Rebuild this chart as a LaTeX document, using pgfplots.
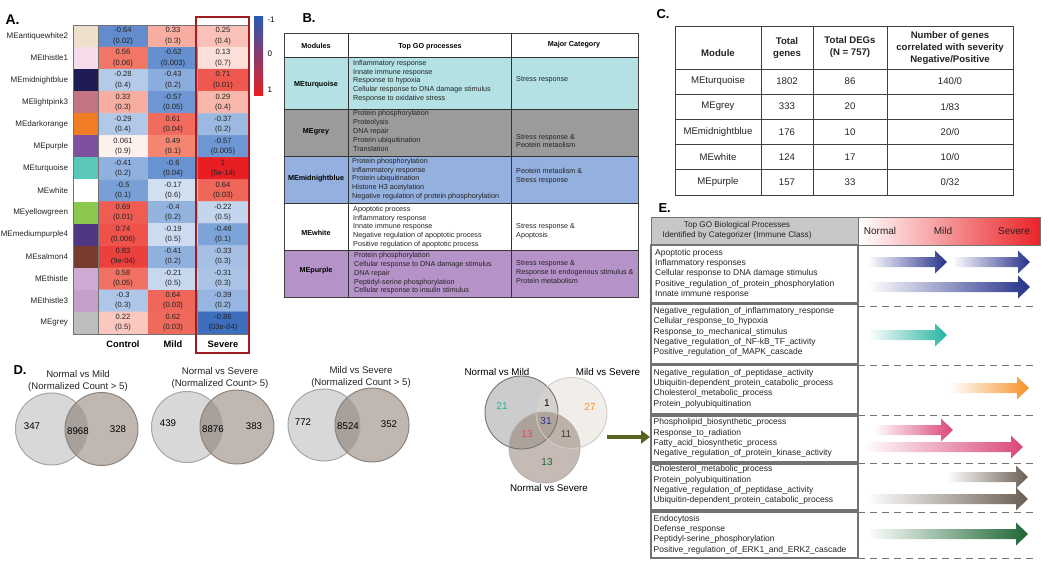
\documentclass[border=0pt]{standalone}
\usepackage{pgfplots}
\pgfplotsset{compat=1.18}
\usepackage{fontspec}
\setmainfont{Liberation Sans}
\usetikzlibrary{arrows.meta}

\definecolor{swA}{RGB}{238,223,204}
\definecolor{swB}{RGB}{248,220,236}
\definecolor{swC}{RGB}{30,27,85}
\definecolor{swD}{RGB}{195,115,130}
\definecolor{swE}{RGB}{240,125,35}
\definecolor{swF}{RGB}{125,80,160}
\definecolor{swG}{RGB}{90,200,185}
\definecolor{swH}{RGB}{255,255,255}
\definecolor{swI}{RGB}{140,200,80}
\definecolor{swJ}{RGB}{80,55,130}
\definecolor{swK}{RGB}{120,60,45}
\definecolor{swL}{RGB}{205,170,210}
\definecolor{swM}{RGB}{195,160,200}
\definecolor{swN}{RGB}{190,190,190}
\definecolor{cbBlue}{RGB}{40,90,180}
\definecolor{cbRed}{RGB}{232,30,35}
\definecolor{sevBox}{RGB}{160,30,35}
\definecolor{bTurq}{RGB}{180,226,228}
\definecolor{bGrey}{RGB}{155,155,155}
\definecolor{bMid}{RGB}{148,176,222}
\definecolor{bPur}{RGB}{181,146,200}
\definecolor{vL}{RGB}{216,216,216}
\definecolor{vLd}{RGB}{165,165,165}
\definecolor{vR}{RGB}{192,184,176}
\definecolor{vRd}{RGB}{140,131,125}
\definecolor{vO}{RGB}{168,160,154}
\definecolor{aNavy}{RGB}{38,49,138}
\definecolor{aTeal}{RGB}{38,179,160}
\definecolor{aOrange}{RGB}{245,146,42}
\definecolor{aPink}{RGB}{217,70,122}
\definecolor{aBrown}{RGB}{107,93,82}
\definecolor{aGreen}{RGB}{29,102,51}
\definecolor{olive}{RGB}{85,100,30}
\definecolor{hdrRed}{RGB}{235,35,40}
\definecolor{txt}{RGB}{35,35,35}

\newcommand{\ft}[2]{\fontsize{#1pt}{#2pt}\selectfont}
\newcommand{\garrow}[4]{%
  \shade[left color=white, right color=#4]
  (#1,{#3-5}) -- ({#2-12},{#3-5}) -- ({#2-12},{#3-11.5}) -- (#2,#3) --
  ({#2-12},{#3+11.5}) -- ({#2-12},{#3+5}) -- (#1,{#3+5}) -- cycle;}
\newcommand{\venn}[5]{%
  \fill[vL] (#1,#3) circle (#4pt);
  \fill[vR] (#2,#3) circle (#5pt);
  \begin{scope}\clip (#1,#3) circle (#4pt); \fill[vO] (#2,#3) circle (#5pt);\end{scope}
  \draw[vLd, line width=1pt] (#1,#3) circle (#4pt);
  \draw[vRd, line width=1pt] (#2,#3) circle (#5pt);}

\begin{document}
\begin{tikzpicture}
\useasboundingbox (0,0) rectangle (1050pt,-565pt);

% ---------- A: heatmap ----------
\begin{axis}[at={(98pt,-25pt)}, anchor=north west, scale only axis,
  width=150pt, height=309pt, xmin=-0.5, xmax=2.5, ymin=-0.5, ymax=13.5,
  y dir=reverse, hide axis, enlargelimits=false,
  colormap={hm}{rgb255=(40,90,180) rgb255=(120,160,215) rgb255=(255,255,255) rgb255=(243,130,110) rgb255=(232,30,35)},
  point meta min=-1, point meta max=1]
\addplot[matrix plot*, mesh/cols=3, point meta=explicit] table[meta=c] {
x y c
0 0 -0.64
1 0 0.33
2 0 0.25
0 1 0.56
1 1 -0.62
2 1 0.13
0 2 -0.28
1 2 -0.43
2 2 0.71
0 3 0.33
1 3 -0.57
2 3 0.29
0 4 -0.29
1 4 0.61
2 4 -0.37
0 5 0.061
1 5 0.49
2 5 -0.57
0 6 -0.41
1 6 -0.6
2 6 1
0 7 -0.5
1 7 -0.17
2 7 0.64
0 8 0.69
1 8 -0.4
2 8 -0.22
0 9 0.74
1 9 -0.19
2 9 -0.48
0 10 0.83
1 10 -0.41
2 10 -0.33
0 11 0.58
1 11 -0.21
2 11 -0.31
0 12 -0.3
1 12 0.64
2 12 -0.39
0 13 0.22
1 13 0.62
2 13 -0.86
};
\end{axis}

\begin{scope}[x=1pt,y=-1pt]
% panel labels
\node[anchor=west, font=\ft{14}{14}\bfseries] at (2,20) {A.};
\node[anchor=west, font=\ft{13}{13}\bfseries] at (299,18) {B.};
\node[anchor=west, font=\ft{13}{13}\bfseries] at (653,14) {C.};
\node[anchor=west, font=\ft{13}{13}\bfseries] at (10,370) {D.};
\node[anchor=west, font=\ft{13}{13}\bfseries] at (655,208) {E.};

% heatmap labels and swatches
\foreach \lab/\sw/\a/\ap/\b/\bp/\c/\cp [count=\i from 0] in {
 MEantiquewhite2/swA/-0.64/0.02/0.33/0.3/0.25/0.4,
 MEthistle1/swB/0.56/0.06/-0.62/0.003/0.13/0.7,
 MEmidnightblue/swC/-0.28/0.4/-0.43/0.2/0.71/0.01,
 MElightpink3/swD/0.33/0.3/-0.57/0.05/0.29/0.4,
 MEdarkorange/swE/-0.29/0.4/0.61/0.04/-0.37/0.2,
 MEpurple/swF/0.061/0.9/0.49/0.1/-0.57/0.005,
 MEturquoise/swG/-0.41/0.2/-0.6/0.04/1/5e-14,
 MEwhite/swH/-0.5/0.1/-0.17/0.6/0.64/0.03,
 MEyellowgreen/swI/0.69/0.01/-0.4/0.2/-0.22/0.5,
 MEmediumpurple4/swJ/0.74/0.006/-0.19/0.5/-0.48/0.1,
 MEsalmon4/swK/0.83/9e-04/-0.41/0.2/-0.33/0.3,
 MEthistle/swL/0.58/0.05/-0.21/0.5/-0.31/0.3,
 MEthistle3/swM/-0.3/0.3/0.64/0.03/-0.39/0.2,
 MEgrey/swN/0.22/0.5/0.62/0.03/-0.86/03e-04}{
  \pgfmathsetmacro\yy{36.04+22.07*\i}
  \pgfmathsetmacro\ytop{25+22.07*\i}
  \pgfmathsetmacro\ybot{25+22.07*(\i+1)}
  \fill[\sw] (73,\ytop) rectangle (98,\ybot);
  \node[anchor=east, font=\ft{8}{9}, text=txt] at (71.5,\yy) {\lab};
  \node[align=center, font=\ft{7.6}{10.2}, inner sep=0pt, text=txt] at (123,\yy) {\a\\(\ap)};
  \node[align=center, font=\ft{7.6}{10.2}, inner sep=0pt, text=txt] at (173,\yy) {\b\\(\bp)};
  \node[align=center, font=\ft{7.6}{10.2}, inner sep=0pt, text=txt] at (223,\yy) {\c\\(\cp)};
}
\draw[black!55, line width=1pt] (73,25) rectangle (248,334);
\draw[black!55, line width=1pt] (98,25) -- (98,334);
\draw[sevBox, line width=1.8pt] (196,17) rectangle (249,353);
\node[font=\ft{9.3}{10}\bfseries] at (123,344) {Control};
\node[font=\ft{9.3}{10}\bfseries] at (173,344) {Mild};
\node[font=\ft{9.3}{10}\bfseries] at (223,344) {Severe};
% colour bar
\shade[top color=cbBlue, middle color=white, bottom color=cbRed] (254,16) rectangle (263,95);
\node[anchor=west, font=\ft{8}{9}] at (264,19.5) {-1};
\node[anchor=west, font=\ft{8}{9}] at (264,54) {0};
\node[anchor=west, font=\ft{8}{9}] at (264,89.5) {1};

% ---------- B: table ----------
\fill[bTurq] (284,57) rectangle (638,109);
\fill[bGrey] (284,109) rectangle (638,156);
\fill[bMid] (284,156) rectangle (638,203);
\fill[bPur] (284,250) rectangle (638,297);
\draw[black!75, line width=0.8pt] (284,33) rectangle (638,297);
\foreach \yy in {57,109,156,203,250} \draw[black!80, line width=0.8pt] (284,\yy) -- (638,\yy);
\draw[black!80, line width=0.8pt] (348,33) -- (348,297);
\draw[black!80, line width=0.8pt] (511,33) -- (511,297);
\node[font=\ft{7.2}{8}\bfseries] at (316,46) {Modules};
\node[font=\ft{7.2}{8}\bfseries] at (430,47) {Top GO processes};
\node[font=\ft{7.2}{8}\bfseries] at (574,45) {Major Category};
\node[font=\ft{7.2}{8}\bfseries] at (316,85) {MEturquoise};
\node[font=\ft{7.2}{8}\bfseries] at (316,132) {MEgrey};
\node[font=\ft{7.2}{8}\bfseries] at (316,179) {MEmidnightblue};
\node[font=\ft{7.2}{8}\bfseries] at (316,233) {MEwhite};
\node[font=\ft{7.2}{8}\bfseries] at (316,271) {MEpurple};
\begin{scope}[every node/.style={anchor=west, align=left, font=\ft{7.2}{8.8}, text=txt, inner sep=0pt}]
\node at (353,81) {Inflammatory response\\Innate immune response\\Response to hypoxia\\Cellular response to DNA damage stimulus\\Response to oxidative stress};
\node at (353,131) {Protein phosphorylation\\Proteolysis\\DNA repair\\Protein ubiquitination\\Translation};
\node at (352,179) {Protein phosphorylation\\Inflammatory response\\Protein ubiquitination\\Histone H3 acetylation\\Negative regulation of protein phosphorylation};
\node at (353,227) {Apoptotic process\\Inflammatory response\\Innate immune response\\Negative regulation of apoptotic process\\Positive regulation of apoptotic process};
\node at (354,273.5) {Protein phosphorylation\\Cellular response to DNA damage stimulus\\DNA repair\\Peptidyl-serine phosphorylation\\Cellular response to insulin stimulus};
\node at (516,80) {Stress response};
\node at (516,141) {Stress response \&\\Peotein metaolism};
\node at (516,176) {Peotein metaolism \&\\Stress response};
\node at (516,231) {Stress response \&\\Apoptosis};
\node at (516,272) {Stress response \&\\Response to endogenous stimulus \&\\Protein metabolism};
\end{scope}

% ---------- C: table ----------
\draw[black!75, line width=0.9pt] (675,26) rectangle (1013,195);
\foreach \yy in {69,94,119,144,169} \draw[black!75, line width=0.8pt] (675,\yy) -- (1013,\yy);
\foreach \xx in {761,813,887} \draw[black!75, line width=0.8pt] (\xx,26) -- (\xx,195);
\begin{scope}[every node/.style={align=center, font=\ft{9.6}{11.7}\bfseries, text=txt}]
\node at (718,53) {Module};
\node at (787,48) {Total\\genes};
\node at (850,47) {Total DEGs\\(N = 757)};
\node at (950,48) {Number of genes\\correlated with severity\\Negative/Positive};
\end{scope}
\foreach \m/\t/\d/\n [count=\i from 0] in {MEturquoise/1802/86/140\slash 0, MEgrey/333/20/1\slash 83,
  MEmidnightblue/176/10/20\slash 0, MEwhite/124/17/10\slash 0, MEpurple/157/33/0\slash 32}{
  \pgfmathsetmacro\yy{81.5+25.1*\i}
  \node[font=\ft{9.6}{11}, text=txt] at (718,\yy) {\m};
  \node[font=\ft{9.6}{11}, text=txt] at (787,\yy) {\t};
  \node[font=\ft{9.6}{11}, text=txt] at (850,\yy) {\d};
  \node[font=\ft{9.6}{11}, text=txt] at (950,\yy) {\n};
}

% ---------- D: Venn diagrams ----------
\begin{scope}[every node/.style={align=center, font=\ft{9.6}{11.5}, text=txt}]
\node at (78,381) {Normal vs Mild\\(Normalized Count > 5)};
\node at (220,378) {Normal vs Severe\\(Normalized Count> 5)};
\node at (361,377) {Mild vs Severe\\(Normalized Count > 5)};
\end{scope}
\venn{51.5}{101.5}{429}{36}{36.5}
\venn{187}{237}{427}{35.5}{37}
\venn{324}{372}{425}{36}{37}
\begin{scope}[every node/.style={font=\ft{9.7}{10}, text=black}]
\node at (32,426) {347}; \node at (78,431) {8968}; \node at (118,429) {328};
\node at (168,423) {439}; \node at (213,429) {8876}; \node at (254,426) {383};
\node at (303,422) {772}; \node at (348,426) {8524}; \node at (389,424) {352};
\end{scope}
% three-set Venn
\fill[black!100, fill opacity=0.2] (521.5,412.5) circle (36.5pt);
\fill[fill={rgb,255:red,225;green,216;blue,204}, fill opacity=0.45] (571.5,413) circle (35.5pt);
\fill[fill={rgb,255:red,140;green,120;blue,105}, fill opacity=0.5] (544.5,447.5) circle (35.5pt);
\draw[black!55, line width=0.9pt] (521.5,412.5) circle (36.5pt);
\draw[black!20, line width=0.9pt] (571.5,413) circle (35.5pt);
\draw[black!30, line width=0.9pt] (544.5,447.5) circle (35.5pt);
\node[font=\ft{9.8}{10}] at (497,372) {Normal vs Mild};
\node[font=\ft{9.8}{10}] at (608,372) {Mild vs Severe};
\node[font=\ft{9.8}{10}] at (549,488) {Normal vs Severe};
\node[font=\ft{10}{10}, text=aTeal] at (502,406) {21};
\node[font=\ft{10}{10}, text=black] at (547,403) {1};
\node[font=\ft{10}{10}, text=aOrange] at (590,407) {27};
\node[font=\ft{10}{10}, text=aNavy] at (546,421) {31};
\node[font=\ft{10}{10}, text=aPink] at (527,434) {13};
\node[font=\ft{10}{10}, text=black!75] at (566,434) {11};
\node[font=\ft{10}{10}, text=aGreen] at (547,462) {13};
\draw[-{Triangle[length=9pt,width=13pt]}, line width=3.5pt, olive] (607,437) -- (650,437);

% ---------- E ----------
\fill[black!22] (651,217) rectangle (858,245);
\shade[left color=white, right color=hdrRed] (858,217) rectangle (1040,245);
\draw[black!55, line width=1pt] (651,217) rectangle (1040,245);
\draw[black!55, line width=1pt] (858,217) -- (858,245);
\node[align=center, font=\ft{8.2}{10.4}, text=txt] at (737,230.5) {Top GO Biological Processes\\Identified by Categorizer (Immune Class)};
\node[font=\ft{10}{10}, text=txt] at (880,231) {Normal};
\node[font=\ft{10}{10}, text=txt] at (943,231) {Mild};
\node[font=\ft{10}{10}, text=txt] at (1014,231) {Severe};
\foreach \ya/\yb in {245/303, 304/364, 365/414, 416/462, 464/510, 512/558}
  \draw[black!55, line width=1.1pt] (651,\ya) rectangle (858,\yb);
\foreach \yy in {306,365,415,463,512,558}
  \draw[black!55, line width=0.9pt, dash pattern=on 7pt off 5pt] (858,\yy) -- (1036,\yy);
\begin{scope}[every node/.style={anchor=west, align=left, font=\ft{8.5}{10.3}, text=txt, inner sep=0pt}]
\node at (655,273.5) {Apoptotic process\\Inflammatory responses\\Cellular response to DNA damage stimulus\\Positive\_regulation\_of\_protein\_phosphorylation\\Innate immune response};
\node at (653.5,332) {Negative\_regulation\_of\_inflammatory\_response\\Cellular\_response\_to\_hypoxia\\Response\_to\_mechanical\_stimulus\\Negative\_regulation\_of\_NF-kB\_TF\_activity\\Positive\_regulation\_of\_MAPK\_cascade};
\node at (653.5,388.5) {Negative\_regulation\_of\_peptidase\_activity\\Ubiquitin-dependent\_protein\_catabolic\_process\\Cholesterol\_metabolic\_process\\Protein\_polyubiquitination};
\node at (653.5,438) {Phospholipid\_biosynthetic\_process\\Response\_to\_radiation\\Fatty\_acid\_biosynthetic\_process\\Negative\_regulation\_of\_protein\_kinase\_activity};
\node at (653.5,485) {Cholesterol\_metabolic\_process\\Protein\_polyubiquitination\\Negative\_regulation\_of\_peptidase\_activity\\Ubiquitin-dependent\_protein\_catabolic\_process};
\node at (653.5,534.5) {Endocytosis\\Defense\_response\\Peptidyl-serine\_phosphorylation\\Positive\_regulation\_of\_ERK1\_and\_ERK2\_cascade};
\end{scope}
\garrow{868}{947}{262}{aNavy}
\garrow{952}{1030}{262}{aNavy}
\garrow{868}{1030}{287}{aNavy}
\garrow{868}{947}{335}{aTeal}
\garrow{950}{1029}{388}{aOrange}
\garrow{873}{953}{430}{aPink}
\garrow{863}{1023}{447}{aPink}
\garrow{947}{1028}{477}{aBrown}
\garrow{867}{1028}{499}{aBrown}
\garrow{867}{1028}{534}{aGreen}
\end{scope}
\end{tikzpicture}
\end{document}
